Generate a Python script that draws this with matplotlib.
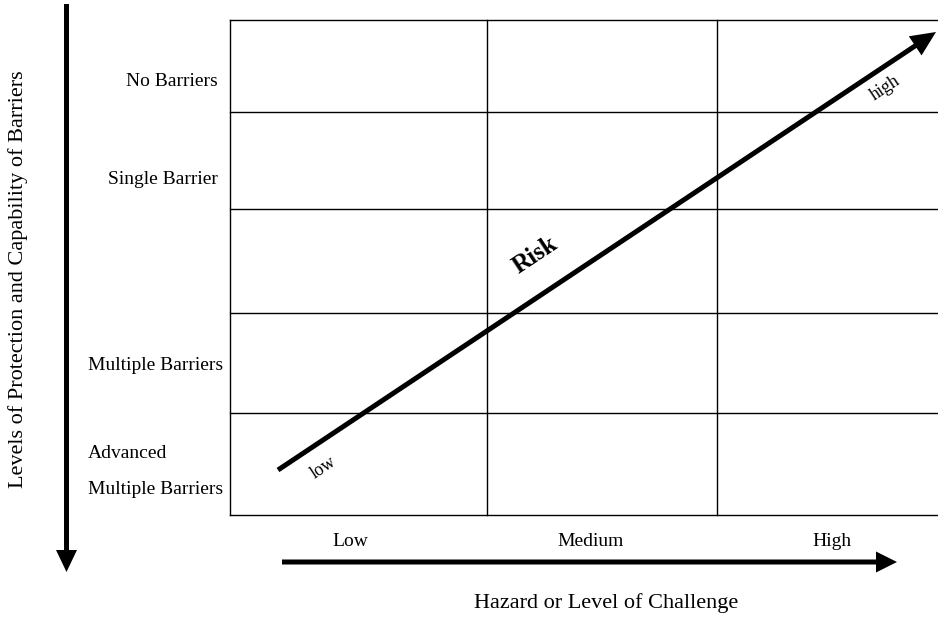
import matplotlib
matplotlib.use("Agg")
import matplotlib.pyplot as plt

plt.rcParams['font.family'] = ['Liberation Serif', 'DejaVu Serif']

# -------------------------------
# Diagram content (pixel layout of the 938x620 canvas)
# -------------------------------
hazard_levels = ["Low", "Medium", "High"]
hazard_label_x = [350, 591, 832]

barrier_labels = ["No Barriers", "Single Barrier", "Multiple Barriers", "Advanced", "Multiple Barriers"]
barrier_label_y = [81, 180, 365, 453, 489]
barrier_label_x = [218, 218, 88, 88, 88]
barrier_label_ha = ["right", "right", "left", "left", "left"]

col_edges = [230, 487, 717, 937]
row_edges = [20, 112, 209, 313, 413, 515]

risk_start = (278, 470)
risk_end = (936, 32)

fig = plt.figure(figsize=(9.38, 6.2), dpi=100)
ax = fig.add_axes([0, 0, 1, 1])
ax.set_xlim(0, 938)
ax.set_ylim(620, 0)
ax.axis("off")

# grid
for x in col_edges[:-1]:
    ax.plot([x, x], [row_edges[0], row_edges[-1]], color="black", lw=1.0)
for y in row_edges:
    ax.plot([col_edges[0], col_edges[-1]], [y, y], color="black", lw=1.0)

# row labels
for lab, x, y, ha in zip(barrier_labels, barrier_label_x, barrier_label_y, barrier_label_ha):
    ax.text(x, y, lab, ha=ha, va="center", fontsize=14)

# column labels
for lab, x in zip(hazard_levels, hazard_label_x):
    ax.text(x, 541, lab, ha="center", va="center", fontsize=14)

# axis arrows
ax.arrow(282, 562, 897 - 282, 0, width=5, head_width=21, head_length=21,
         length_includes_head=True, color="black", lw=0)
ax.arrow(66.5, 4, 0, 572 - 4, width=5, head_width=21, head_length=22,
         length_includes_head=True, color="black", lw=0)

ax.text(606, 603, "Hazard or Level of Challenge", ha="center", va="center", fontsize=16)
ax.text(18, 279, "Levels of Protection and Capability of Barriers", ha="center",
        va="center", rotation=90, fontsize=16)

# risk arrow
dx = risk_end[0] - risk_start[0]
dy = risk_end[1] - risk_start[1]
ax.arrow(risk_start[0], risk_start[1], dx, dy, width=5, head_width=23, head_length=25,
         length_includes_head=True, color="black", lw=0)

ang = 33.6
ax.text(535, 255, "Risk", ha="center", va="center", rotation=ang, fontsize=18,
        fontweight="bold")
ax.text(323, 468, "low", ha="center", va="center", rotation=ang, fontsize=13)
ax.text(885, 88, "high", ha="center", va="center", rotation=ang, fontsize=13)

fig.savefig("out.png", dpi=100)
